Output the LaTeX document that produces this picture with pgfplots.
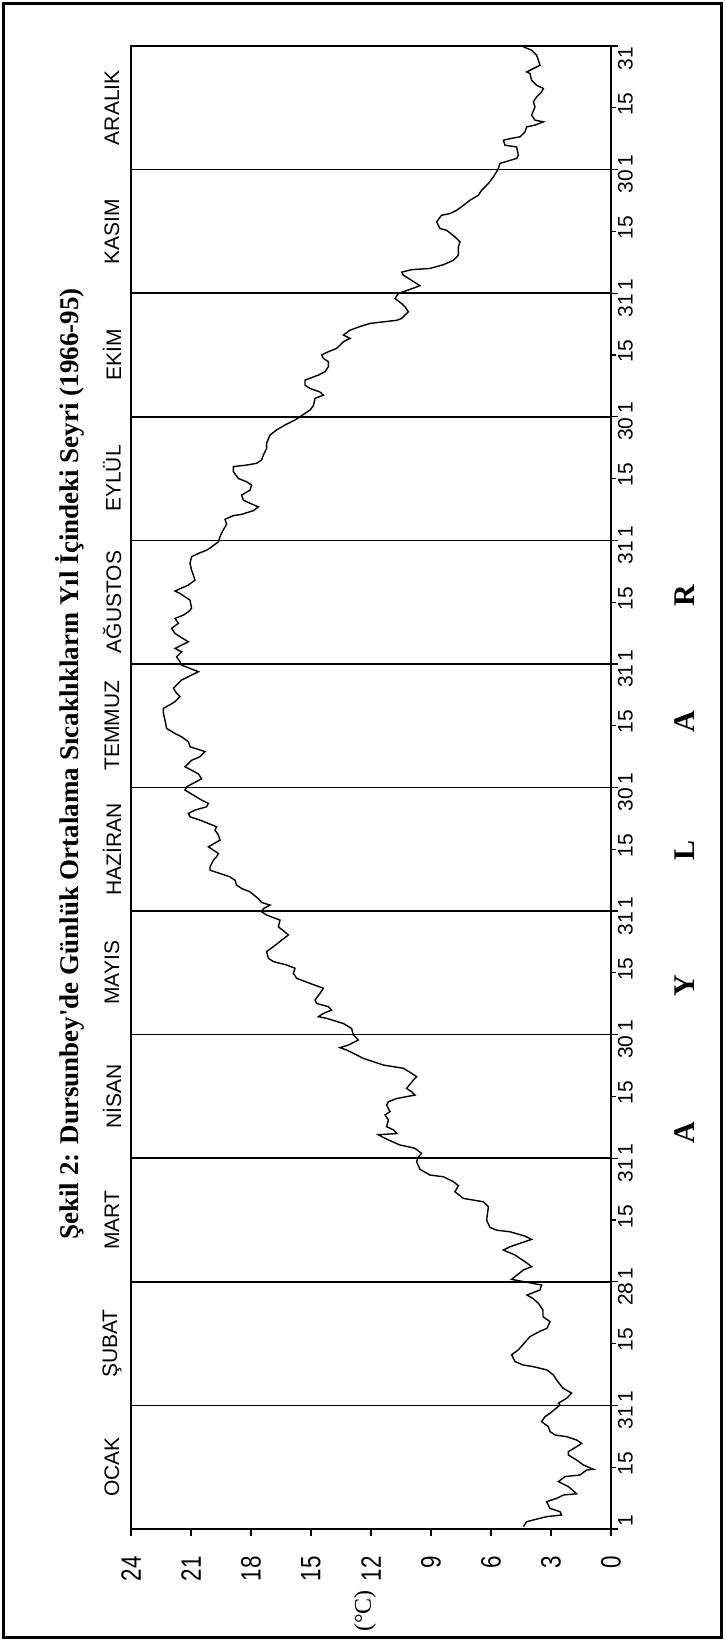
\documentclass[border=0pt]{standalone}
\usepackage{fontspec}
\setmainfont{Liberation Sans}
\newfontfamily\titlefont{Liberation Serif}
\newfontfamily\condfont[FakeStretch=0.8]{Liberation Sans}
\usepackage{pgfplots}
\usepackage{pgfplotstable}
\pgfplotsset{compat=1.18}
\pgfplotstableread{
T pos
4.38 0.019
4.22 0.059
3.22 0.100
2.47 0.113
2.55 0.140
3.05 0.167
3.22 0.221
2.72 0.248
2.38 0.275
1.72 0.285
2.13 0.343
2.63 0.383
2.30 0.424
1.55 0.437
1.22 0.477
0.88 0.483
1.38 0.518
1.72 0.558
2.13 0.599
2.13 0.626
1.72 0.666
1.47 0.693
1.72 0.720
2.22 0.747
2.80 0.761
3.05 0.788
3.13 0.828
3.47 0.869
3.30 0.909
3.05 0.936
2.55 1.003
2.63 1.018
2.20 1.060
1.97 1.100
2.40 1.139
2.72 1.206
2.88 1.246
3.20 1.287
3.90 1.314
4.40 1.327
4.80 1.355
4.97 1.410
4.63 1.450
4.05 1.557
3.55 1.600
3.20 1.624
3.05 1.678
3.40 1.718
3.40 1.770
3.63 1.826
3.90 1.865
4.20 1.893
3.55 1.934
3.47 1.974
4.97 2.020
4.38 2.096
3.97 2.123
4.30 2.163
4.80 2.217
5.38 2.257
5.05 2.284
4.47 2.316
3.97 2.343
4.30 2.370
5.05 2.405
5.72 2.418
6.05 2.440
6.22 2.499
6.13 2.607
6.38 2.648
7.38 2.675
7.80 2.729
7.63 2.778
7.88 2.810
8.38 2.850
9.05 2.864
9.55 2.910
9.72 2.972
9.63 3.010
9.47 3.040
9.80 3.080
10.05 3.090
10.55 3.107
11.13 3.148
11.47 3.175
11.63 3.190
10.70 3.200
10.88 3.230
11.22 3.255
11.13 3.310
11.30 3.350
11.05 3.377
11.22 3.430
11.13 3.457
10.70 3.484
9.80 3.511
9.97 3.538
10.22 3.565
9.88 3.633
9.72 3.660
9.97 3.687
10.38 3.728
11.38 3.754
12.38 3.808
12.88 3.849
13.22 3.876
13.55 3.895
13.13 3.916
12.63 3.957
12.88 3.997
12.97 4.050
13.38 4.090
14.22 4.132
14.63 4.145
14.38 4.172
13.97 4.199
14.13 4.226
14.72 4.253
14.80 4.280
14.55 4.334
14.38 4.375
15.05 4.415
15.72 4.456
15.88 4.496
15.80 4.537
16.22 4.564
16.88 4.591
17.13 4.618
17.22 4.672
16.88 4.712
16.13 4.807
16.63 4.873
16.55 4.927
17.22 4.968
17.47 4.995
17.38 5.020
17.05 5.048
17.47 5.070
17.63 5.100
18.05 5.156
18.47 5.183
18.72 5.210
18.80 5.250
19.05 5.277
19.55 5.304
20.05 5.331
20.05 5.358
19.88 5.412
19.72 5.440
19.63 5.466
20.13 5.520
19.55 5.574
19.63 5.615
19.80 5.655
19.72 5.682
20.55 5.736
21.05 5.763
21.13 5.790
20.80 5.817
20.22 5.844
20.13 5.871
20.47 5.898
20.88 5.938
21.30 5.979
21.22 6.006
20.47 6.070
20.63 6.110
21.30 6.168
20.97 6.220
20.55 6.249
20.30 6.290
21.05 6.330
21.13 6.370
21.47 6.410
21.80 6.437
22.22 6.478
22.30 6.545
22.38 6.600
22.38 6.640
22.05 6.670
21.80 6.694
21.55 6.735
21.72 6.762
21.88 6.803
21.47 6.869
20.97 6.910
20.63 6.937
21.47 6.990
21.55 7.017
21.72 7.057
21.47 7.098
21.80 7.125
21.13 7.179
21.55 7.220
21.80 7.247
21.97 7.288
21.63 7.328
21.80 7.368
21.38 7.395
21.13 7.422
20.97 7.450
21.05 7.516
21.55 7.570
21.80 7.590
21.13 7.638
20.80 7.678
20.88 7.718
20.97 7.759
21.05 7.813
20.97 7.867
20.63 7.894
20.22 7.920
19.97 7.947
19.63 7.988
19.55 8.030
19.40 8.080
19.22 8.130
19.30 8.170
18.88 8.200
18.47 8.210
17.88 8.240
17.63 8.270
18.05 8.300
18.38 8.325
18.47 8.366
18.05 8.406
17.97 8.447
18.22 8.474
18.63 8.500
18.88 8.555
18.88 8.596
18.22 8.609
17.72 8.623
17.47 8.650
17.38 8.690
17.22 8.744
17.22 8.785
17.05 8.852
16.72 8.893
16.30 8.933
15.80 8.974
15.55 9.000
15.05 9.054
14.88 9.090
14.80 9.148
14.38 9.175
14.55 9.200
15.05 9.229
15.30 9.256
15.30 9.296
14.63 9.337
14.30 9.364
14.13 9.405
14.13 9.445
14.38 9.472
14.47 9.500
14.13 9.526
13.72 9.553
13.38 9.607
13.05 9.634
13.38 9.661
13.05 9.700
12.55 9.730
12.05 9.755
11.38 9.768
10.72 9.780
10.47 9.795
10.13 9.849
10.30 9.890
10.47 9.916
10.80 9.957
10.63 9.997
9.55 10.060
10.13 10.120
10.38 10.145
10.47 10.170
9.97 10.190
9.05 10.200
8.38 10.230
7.88 10.266
7.63 10.306
7.63 10.374
7.55 10.415
7.80 10.455
8.22 10.509
8.55 10.523
8.72 10.577
8.47 10.630
8.05 10.644
7.72 10.670
7.38 10.710
7.05 10.752
6.63 10.792
6.47 10.833
6.13 10.887
5.88 10.941
5.72 10.982
5.63 11.010
5.55 11.050
4.72 11.090
4.63 11.116
4.72 11.183
5.30 11.197
5.38 11.237
5.05 11.250
4.55 11.265
4.30 11.305
4.22 11.345
3.80 11.360
3.38 11.386
3.80 11.400
3.97 11.440
3.80 11.507
3.88 11.548
3.72 11.588
3.47 11.628
3.38 11.656
3.72 11.682
3.97 11.723
4.05 11.777
4.22 11.790
3.55 11.844
3.63 11.885
3.72 11.925
3.97 11.966
4.38 11.993
}\tempdata
\begin{document}
\begin{tikzpicture}
\useasboundingbox (0,0) rectangle (362.5pt,820.5pt);
\draw[line width=1.5pt] (1.75pt,1.75pt) rectangle (360.75pt,818.75pt);
\begin{axis}[
  at={(65.5pt,56pt)}, anchor=south west,
  scale only axis, width=240pt, height=741.5pt,
  x dir=reverse, xmin=0, xmax=24, ymin=0, ymax=12,
  xtick={0,3,...,24},
  /pgf/number format/assume math mode=true,
  xticklabel style={font=\condfont\fontsize{14}{14}\selectfont, rotate=90, anchor=east, inner xsep=10pt},
  xtick pos=left, ytick pos=right, tick align=outside,
  major tick length=3.5pt, minor tick length=2.5pt,
  tick style={black, line width=0.6pt},
  ytick={0,...,12}, minor ytick={0.5,1.5,...,11.5},
  yticklabels={},
  ymajorgrids, grid style={black, line width=0.8pt},
  extra y ticks={0.07,0.53,0.9, 1.07,1.53,1.9, 2.07,2.53,2.9, 3.07,3.53,3.9, 4.07,4.53,4.9, 5.07,5.53,5.9, 6.07,6.53,6.9, 7.07,7.53,7.9, 8.07,8.53,8.9, 9.07,9.53,9.9, 10.07,10.53,10.9, 11.07,11.53,11.9},
  extra y tick labels={1,15,31,1,15,28,1,15,31,1,15,30,1,15,31,1,15,30,1,15,31,1,15,31,1,15,30,1,15,31,1,15,30,1,15,31},
  extra y tick style={major tick length=0pt, grid=none, yticklabel style={font=\fontsize{10.5}{12}\selectfont, rotate=90, anchor=north}},
  axis line style={line width=0.8pt},
  clip=false,
]
\addplot[black, line width=0.7pt] table[x=T, y=pos] {\tempdata};
\draw[line width=1.4pt] (axis cs:24,0) -- (axis cs:24,12);
\node[rotate=90, font=\fontsize{10.5}{12}\selectfont] at (axis cs:24.95,0.5) {OCAK};
\node[rotate=90, font=\fontsize{10.5}{12}\selectfont] at (axis cs:24.95,1.5) {ŞUBAT};
\node[rotate=90, font=\fontsize{10.5}{12}\selectfont] at (axis cs:24.95,2.5) {MART};
\node[rotate=90, font=\fontsize{10.5}{12}\selectfont] at (axis cs:24.95,3.5) {NİSAN};
\node[rotate=90, font=\fontsize{10.5}{12}\selectfont] at (axis cs:24.95,4.5) {MAYIS};
\node[rotate=90, font=\fontsize{10.5}{12}\selectfont] at (axis cs:24.95,5.5) {HAZİRAN};
\node[rotate=90, font=\fontsize{10.5}{12}\selectfont] at (axis cs:24.95,6.5) {TEMMUZ};
\node[rotate=90, font=\fontsize{10.5}{12}\selectfont] at (axis cs:24.95,7.5) {AĞUSTOS};
\node[rotate=90, font=\fontsize{10.5}{12}\selectfont] at (axis cs:24.95,8.5) {EYLÜL};
\node[rotate=90, font=\fontsize{10.5}{12}\selectfont] at (axis cs:24.95,9.5) {EKİM};
\node[rotate=90, font=\fontsize{10.5}{12}\selectfont] at (axis cs:24.95,10.5) {KASIM};
\node[rotate=90, font=\fontsize{10.5}{12}\selectfont] at (axis cs:24.95,11.5) {ARALIK};
\node[rotate=90, font=\titlefont\bfseries\fontsize{13.5}{15}\selectfont] at (axis cs:27.05,6.19) {Şekil 2: Dursunbey'de Günlük Ortalama Sıcaklıkların Yıl İçindeki Seyri (1966-95)};
\node[rotate=90, font=\titlefont\fontsize{12}{14}\selectfont] at (axis cs:12.3,-0.663) {(°C)};
\node[rotate=90, font=\titlefont\bfseries\fontsize{15}{16}\selectfont] at (axis cs:-3.7,3.204) {A};
\node[rotate=90, font=\titlefont\bfseries\fontsize{15}{16}\selectfont] at (axis cs:-3.7,4.393) {Y};
\node[rotate=90, font=\titlefont\bfseries\fontsize{15}{16}\selectfont] at (axis cs:-3.7,5.494) {L};
\node[rotate=90, font=\titlefont\bfseries\fontsize{15}{16}\selectfont] at (axis cs:-3.7,6.529) {A};
\node[rotate=90, font=\titlefont\bfseries\fontsize{15}{16}\selectfont] at (axis cs:-3.7,7.549) {R};
\end{axis}
\end{tikzpicture}
\end{document}
